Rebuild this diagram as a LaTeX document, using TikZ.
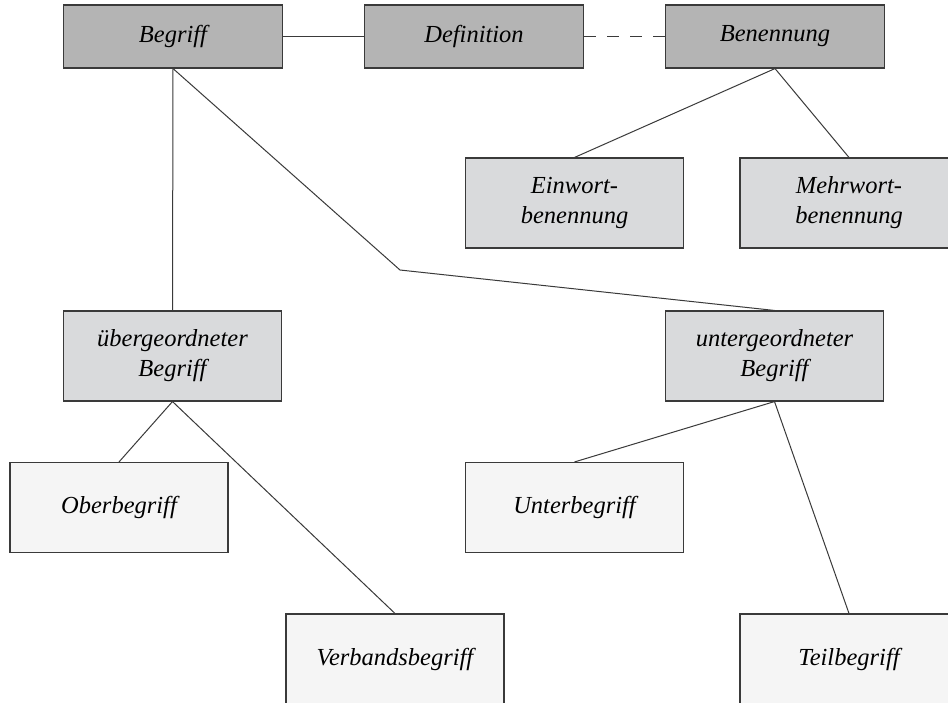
\documentclass[tikz,border=0pt]{standalone}
\usepackage{fontspec}
\setmainfont{Liberation Serif}
\definecolor{boxdark}{HTML}{B4B4B4}
\definecolor{boxmid}{HTML}{D9DADC}
\definecolor{boxlight}{HTML}{F5F5F5}
\definecolor{edge}{HTML}{3A3A3A}
\begin{document}
\begin{tikzpicture}[x=1pt,y=-1pt,
  box/.style={draw=edge,line width=1.1pt,minimum height=#1,inner sep=0pt,
    align=center,font=\fontsize{24.5}{30}\selectfont\itshape},
  topbox/.style={box=63pt,fill=boxdark,minimum width=219pt},
  midbox/.style={box=90pt,fill=boxmid,minimum width=218pt},
  lowbox/.style={box=90pt,fill=boxlight,minimum width=218pt},
  link/.style={draw=edge,line width=1pt}]
\useasboundingbox (0,0) rectangle (948,702);
\clip (0,0) rectangle (948,702);
\fill[white] (0,0) rectangle (948,702);
% top row
\node[topbox] (begriff) at (173,36.5) {Begriff};
\node[topbox] (definition) at (474,36.5) {Definition};
\node[topbox] (benennung) at (775,36.5) {Benennung};
% Benennung children
\node[midbox] (einwort) at (574.5,203) {Einwort-\\benennung};
\node[midbox] (mehrwort) at (849,203) {Mehrwort-\\benennung};
% second level
\node[midbox] (ueber) at (172.5,356) {übergeordneter\\Begriff};
\node[midbox] (unter) at (774.5,356) {untergeordneter\\Begriff};
% leaves
\node[lowbox] (ober) at (119,507.5) {Oberbegriff};
\node[lowbox] (unterb) at (574.5,507.5) {Unterbegriff};
\node[lowbox] (verband) at (395,659) {Verbandsbegriff};
\node[lowbox] (teil) at (849,659) {Teilbegriff};
\coordinate (bend) at (400,270);
% connectors
\draw[link] (begriff.east) -- (definition.west);
\draw[link,dash pattern=on 12pt off 11pt] (definition.east) -- (benennung.west);
\draw[link] (benennung.south) -- (einwort.north);
\draw[link] (benennung.south) -- (mehrwort.north);
\draw[link] (begriff.south) -- (ueber.north);
\draw[link] (begriff.south) -- (bend) -- (unter.north);
\draw[link] (ueber.south) -- (ober.north);
\draw[link] (ueber.south) -- (verband.north);
\draw[link] (unter.south) -- (unterb.north);
\draw[link] (unter.south) -- (teil.north);
\end{tikzpicture}
\end{document}
